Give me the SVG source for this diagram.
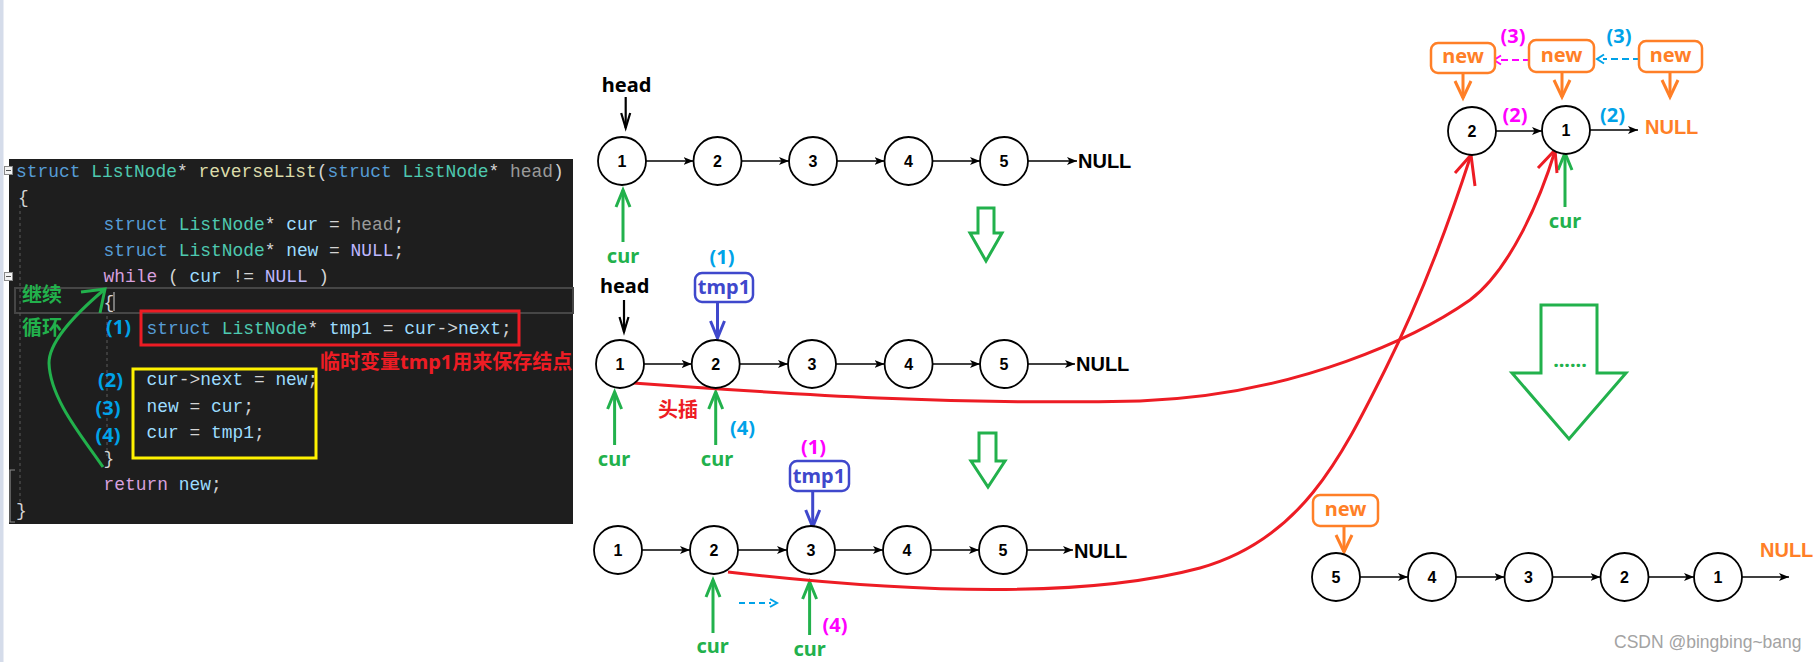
<svg xmlns="http://www.w3.org/2000/svg" width="1820" height="662" viewBox="0 0 1820 662">
<style>
.code{font-family:"Liberation Mono",monospace;font-size:17.9px;fill:#d4d4d4}
.kw{fill:#569cd6}.ty{fill:#4ec9b0}.fn{fill:#dcdcaa}.pa{fill:#9a9a9a}.va{fill:#9cdcfe}.mc{fill:#beb7ff}.ct{fill:#d8a0df}
.lb{font-family:"Noto Sans","Noto Sans CJK SC",sans-serif;font-weight:bold;font-size:20px}
.mid{text-anchor:middle}
.num{font-family:"Liberation Sans",Arial,sans-serif;font-weight:bold;font-size:16px;text-anchor:middle;fill:#000}
.nul{font-family:"Liberation Sans",Arial,sans-serif;font-weight:bold;font-size:20px;fill:#000}
.nd{fill:#fff;stroke:#000;stroke-width:1.8}
.ln{stroke:#000;stroke-width:1.5;fill:none;marker-end:url(#ah)}
.g{fill:#22b14c}.bl{fill:#00a2e8}.mg{fill:#ff00ff}.rd{fill:#ed1c24}.or{fill:#ff7f27}.tb{fill:#3f48cc}
.pg{stroke:#22b14c;stroke-width:3;fill:none;marker-end:url(#mgr)}
.pk{stroke:#000;stroke-width:2.2;fill:none;marker-end:url(#mbk)}
.pb{stroke:#3f48cc;stroke-width:3;fill:none;marker-end:url(#mbl)}
.po{stroke:#ff7f27;stroke-width:3;fill:none;marker-end:url(#mor)}
.red{stroke:#ed1c24;stroke-width:3;fill:none}
.big{fill:none;stroke:#22b14c;stroke-width:3}
.bx{fill:#fff;stroke-width:2.5}
</style>
<defs>
<marker id="ah" viewBox="0 0 10 8" refX="10" refY="4" markerWidth="10" markerHeight="8" markerUnits="userSpaceOnUse" orient="auto"><path d="M0,0 L10,4 L0,8 L2.5,4 Z" fill="#000"/></marker>
<marker id="mgr" viewBox="0 0 20 16" refX="17" refY="8" markerWidth="20" markerHeight="16" markerUnits="userSpaceOnUse" orient="auto" overflow="visible"><path d="M0,1 L17,8 L0,15" fill="none" stroke="#22b14c" stroke-width="3"/></marker>
<marker id="mbk" viewBox="0 0 16 12" refX="15" refY="6" markerWidth="16" markerHeight="12" markerUnits="userSpaceOnUse" orient="auto" overflow="visible"><path d="M0,1.5 L15,6 L0,10.5" fill="none" stroke="#000" stroke-width="2.2"/></marker>
<marker id="mbl" viewBox="0 0 20 16" refX="17" refY="8" markerWidth="20" markerHeight="16" markerUnits="userSpaceOnUse" orient="auto" overflow="visible"><path d="M0,1 L17,8 L0,15" fill="none" stroke="#3f48cc" stroke-width="3"/></marker>
<marker id="mor" viewBox="0 0 20 18" refX="17" refY="9" markerWidth="20" markerHeight="18" markerUnits="userSpaceOnUse" orient="auto" overflow="visible"><path d="M0,1 L17,9 L0,17" fill="none" stroke="#ff7f27" stroke-width="3"/></marker>
</defs>
<rect width="1820" height="662" fill="#fff"/>
<rect x="0" y="0" width="3.5" height="662" fill="#d5dcea"/>

<g id="code-panel">
<rect x="9" y="159" width="564" height="365" fill="#1e1e1e"/>
<rect x="15" y="288" width="558" height="25" fill="none" stroke="#464646" stroke-width="2"/>
<line x1="20" y1="205" x2="20" y2="505" stroke="#5a5a5a" stroke-width="1" stroke-dasharray="3,3"/>
<line x1="107" y1="316" x2="107" y2="456" stroke="#5a5a5a" stroke-width="1" stroke-dasharray="3,3"/>
<polyline points="15,470 10,470 10,522 15,522" fill="none" stroke="#8a8a8a" stroke-width="1.2"/>
<rect x="4.5" y="166.5" width="8" height="8" fill="#f3f3f3" stroke="#8a8a8a"/><line x1="6" y1="170.5" x2="11" y2="170.5" stroke="#555"/>
<rect x="4.5" y="272.5" width="8" height="8" fill="#f3f3f3" stroke="#8a8a8a"/><line x1="6" y1="276.5" x2="11" y2="276.5" stroke="#555"/>
<line x1="114" y1="292" x2="114" y2="311" stroke="#d0d0d0" stroke-width="1"/>
<text class="code" x="16" y="177" xml:space="preserve"><tspan class="kw">struct</tspan> <tspan class="ty">ListNode</tspan>* <tspan class="fn">reverseList</tspan>(<tspan class="kw">struct</tspan> <tspan class="ty">ListNode</tspan>* <tspan class="pa">head</tspan>)</text>
<text class="code" x="18" y="203">{</text>
<text class="code" x="103.6" y="230" xml:space="preserve"><tspan class="kw">struct</tspan> <tspan class="ty">ListNode</tspan>* <tspan class="va">cur</tspan> = <tspan class="pa">head</tspan>;</text>
<text class="code" x="103.6" y="256" xml:space="preserve"><tspan class="kw">struct</tspan> <tspan class="ty">ListNode</tspan>* <tspan class="va">new</tspan> = <tspan class="mc">NULL</tspan>;</text>
<text class="code" x="103.6" y="282" xml:space="preserve"><tspan class="ct">while</tspan> ( <tspan class="va">cur</tspan> != <tspan class="mc">NULL</tspan> )</text>
<text class="code" x="103.6" y="308">{</text>
<text class="code" x="146.5" y="334" xml:space="preserve"><tspan class="kw">struct</tspan> <tspan class="ty">ListNode</tspan>* <tspan class="va">tmp1</tspan> = <tspan class="va">cur</tspan>-&gt;<tspan class="va">next</tspan>;</text>
<text class="code" x="146.5" y="385" xml:space="preserve"><tspan class="va">cur</tspan>-&gt;<tspan class="va">next</tspan> = <tspan class="va">new</tspan>;</text>
<text class="code" x="146.5" y="412" xml:space="preserve"><tspan class="va">new</tspan> = <tspan class="va">cur</tspan>;</text>
<text class="code" x="146.5" y="438" xml:space="preserve"><tspan class="va">cur</tspan> = <tspan class="va">tmp1</tspan>;</text>
<text class="code" x="103.6" y="464">}</text>
<text class="code" x="103.6" y="490" xml:space="preserve"><tspan class="ct">return</tspan> <tspan class="va">new</tspan>;</text>
<text class="code" x="16" y="516">}</text>
<rect x="141" y="311" width="378" height="34" fill="none" stroke="#ed1c24" stroke-width="3"/>
<rect x="133" y="369" width="183" height="89" fill="none" stroke="#fff200" stroke-width="3"/>
<text class="lb bl" x="106" y="334">(1)</text>
<text class="lb bl" x="98" y="387">(2)</text>
<text class="lb bl" x="95.5" y="415">(3)</text>
<text class="lb bl" x="95.5" y="442">(4)</text>
<text class="lb rd" x="320" y="369">临时变量tmp1用来保存结点</text>
<text class="lb g" x="22" y="302">继续</text>
<text class="lb g" x="22" y="335">循环</text>
<path d="M103,467 C85,440 50,400 49,363 C49,340 80,310 105,289" fill="none" stroke="#22b14c" stroke-width="3"/>
<polyline points="81,292 105,289 100,313" fill="none" stroke="#22b14c" stroke-width="3"/>
</g>

<g id="connectors">
<line class="ln" x1="646" y1="161" x2="693.5" y2="161"/>
<line class="ln" x1="741.5" y1="161" x2="789" y2="161"/>
<line class="ln" x1="837" y1="161" x2="884.5" y2="161"/>
<line class="ln" x1="932.5" y1="161" x2="980" y2="161"/>
<line class="ln" x1="1028" y1="161" x2="1077" y2="161"/>
<line class="ln" x1="644" y1="364" x2="691.7" y2="364"/>
<line class="ln" x1="739.7" y1="364" x2="788" y2="364"/>
<line class="ln" x1="836" y1="364" x2="884.6" y2="364"/>
<line class="ln" x1="932.6" y1="364" x2="980" y2="364"/>
<line class="ln" x1="1028" y1="364" x2="1075" y2="364"/>
<line class="ln" x1="642" y1="550" x2="690" y2="550"/>
<line class="ln" x1="738" y1="550" x2="787" y2="550"/>
<line class="ln" x1="835" y1="550" x2="883" y2="550"/>
<line class="ln" x1="931" y1="550" x2="979" y2="550"/>
<line class="ln" x1="1027" y1="550" x2="1073" y2="550"/>
<line class="ln" x1="1496" y1="131" x2="1542" y2="131"/>
<line class="ln" x1="1590" y1="130" x2="1638" y2="130"/>
<line class="ln" x1="1360" y1="577" x2="1408" y2="577"/>
<line class="ln" x1="1456" y1="577" x2="1504.5" y2="577"/>
<line class="ln" x1="1552.5" y1="577" x2="1600.5" y2="577"/>
<line class="ln" x1="1648.5" y1="577" x2="1694" y2="577"/>
<line class="ln" x1="1742" y1="577" x2="1789" y2="577"/>
<line class="pk" x1="625.7" y1="97" x2="625.7" y2="128"/>
<line class="pk" x1="624" y1="300" x2="624" y2="332"/>
<line class="pb" x1="717.5" y1="302" x2="717.5" y2="338"/>
<line class="pb" x1="812.7" y1="491" x2="812.7" y2="527"/>
<line class="pg" x1="623" y1="242" x2="623" y2="190"/>
<line class="pg" x1="614.6" y1="445" x2="614.6" y2="392"/>
<line class="pg" x1="715.7" y1="445" x2="715.7" y2="392"/>
<line class="pg" x1="713" y1="633" x2="713" y2="580"/>
<line class="pg" x1="809.6" y1="635" x2="809.6" y2="582"/>
<line class="pg" x1="1565" y1="207" x2="1565" y2="153"/>
<line class="po" x1="1463" y1="73" x2="1463" y2="98"/>
<line class="po" x1="1562" y1="72" x2="1562" y2="97"/>
<line class="po" x1="1670" y1="72" x2="1670" y2="97"/>
<line class="po" x1="1344" y1="526" x2="1344" y2="552"/>
<path class="red" d="M633,383 C800,395 950,405 1140,401 C1300,395 1420,335 1470,300 C1510,270 1540,200 1555,151"/>
<polyline class="red" points="1538,168 1555,150 1557,173"/>
<path class="red" d="M728,572 C900,592 1080,600 1200,568 C1300,540 1340,460 1385,370 C1420,300 1450,220 1471,155"/>
<polyline class="red" points="1455,173 1471,155 1475,186"/>
<path d="M1530,60 H1499" fill="none" stroke="#ff00ff" stroke-width="2.2" stroke-dasharray="7,4"/>
<polyline points="1501,55.5 1494,60 1501,64.5" fill="none" stroke="#ff00ff" stroke-width="2"/>
<path d="M1640,59 H1603" fill="none" stroke="#00a2e8" stroke-width="2.2" stroke-dasharray="7,4"/>
<polyline points="1604,54.5 1597,59 1604,63.5" fill="none" stroke="#00a2e8" stroke-width="2"/>
<path d="M739,603 H771" fill="none" stroke="#00a2e8" stroke-width="2" stroke-dasharray="6,4"/>
<polyline points="770,599 777,603 770,607" fill="none" stroke="#00a2e8" stroke-width="2"/>
</g>

<g id="big-arrows">
<path class="big" d="M978,208 H994 V233 H1002 L986,261 L970,233 H978 Z"/>
<path class="big" d="M979,433 H996 V461 H1005 L988,487 L971,461 H979 Z"/>
<path class="big" stroke-width="3.5" d="M1541,305 H1597 V373 H1626 L1569,439 L1512,373 H1541 Z"/>
<text class="lb g mid" x="1570" y="367">......</text>
</g>

<g id="row1">
<text class="lb mid" x="626.5" y="92">head</text>
<g id="r1n1"><circle class="nd" cx="622" cy="161" r="24"/><text class="num" x="622" y="167">1</text></g>
<g id="r1n2"><circle class="nd" cx="717.5" cy="161" r="24"/><text class="num" x="717.5" y="167">2</text></g>
<g id="r1n3"><circle class="nd" cx="813" cy="161" r="24"/><text class="num" x="813" y="167">3</text></g>
<g id="r1n4"><circle class="nd" cx="908.5" cy="161" r="24"/><text class="num" x="908.5" y="167">4</text></g>
<g id="r1n5"><circle class="nd" cx="1004" cy="161" r="24"/><text class="num" x="1004" y="167">5</text></g>
<text class="nul" x="1078" y="168">NULL</text>
<text class="lb g mid" x="623" y="263" font-size="19">cur</text>
<text class="lb bl mid" x="722" y="264">(1)</text>
</g>

<g id="row2">
<text class="lb mid" x="624.7" y="293">head</text>
<g id="r2tmp"><rect class="bx" x="695" y="273" width="58" height="29" rx="7" stroke="#3f48cc"/><text class="lb tb mid" x="724" y="294" font-size="18.5">tmp1</text></g>
<g id="r2n1"><circle class="nd" cx="620" cy="364" r="24"/><text class="num" x="620" y="370">1</text></g>
<g id="r2n2"><circle class="nd" cx="715.7" cy="364" r="24"/><text class="num" x="715.7" y="370">2</text></g>
<g id="r2n3"><circle class="nd" cx="812" cy="364" r="24"/><text class="num" x="812" y="370">3</text></g>
<g id="r2n4"><circle class="nd" cx="908.6" cy="364" r="24"/><text class="num" x="908.6" y="370">4</text></g>
<g id="r2n5"><circle class="nd" cx="1004" cy="364" r="24"/><text class="num" x="1004" y="370">5</text></g>
<text class="nul" x="1076" y="371">NULL</text>
<text class="lb g mid" x="614" y="466" font-size="19">cur</text>
<text class="lb g mid" x="717" y="466" font-size="19">cur</text>
<text class="lb bl mid" x="742.5" y="435">(4)</text>
<text class="lb rd" x="658" y="417">头插</text>
</g>

<g id="row3">
<text class="lb mg mid" x="813.5" y="454">(1)</text>
<g id="r3tmp"><rect class="bx" x="790" y="461" width="59" height="30" rx="7" stroke="#3f48cc"/><text class="lb tb mid" x="819" y="483" font-size="18.5">tmp1</text></g>
<g id="r3n1"><circle class="nd" cx="618" cy="550" r="24"/><text class="num" x="618" y="556">1</text></g>
<g id="r3n2"><circle class="nd" cx="714" cy="550" r="24"/><text class="num" x="714" y="556">2</text></g>
<g id="r3n3"><circle class="nd" cx="811" cy="550" r="24"/><text class="num" x="811" y="556">3</text></g>
<g id="r3n4"><circle class="nd" cx="907" cy="550" r="24"/><text class="num" x="907" y="556">4</text></g>
<g id="r3n5"><circle class="nd" cx="1003" cy="550" r="24"/><text class="num" x="1003" y="556">5</text></g>
<text class="nul" x="1074" y="558">NULL</text>
<text class="lb g mid" x="712.6" y="653" font-size="19">cur</text>
<text class="lb g mid" x="809.6" y="656" font-size="19">cur</text>
<text class="lb mg mid" x="835" y="632">(4)</text>
</g>

<g id="topright">
<g id="tr-new1"><rect class="bx" x="1431" y="43" width="64" height="30" rx="7" stroke="#ff7f27"/><text class="lb or mid" x="1463" y="63" font-size="19">new</text></g>
<g id="tr-new2"><rect class="bx" x="1529" y="40" width="65" height="32" rx="7" stroke="#ff7f27"/><text class="lb or mid" x="1561.5" y="62" font-size="19">new</text></g>
<g id="tr-new3"><rect class="bx" x="1639" y="41" width="63" height="31" rx="7" stroke="#ff7f27"/><text class="lb or mid" x="1670.5" y="62" font-size="19">new</text></g>
<text class="lb mg mid" x="1513" y="43">(3)</text>
<text class="lb bl mid" x="1619" y="43">(3)</text>
<g id="tr-n2"><circle class="nd" cx="1472" cy="131" r="24"/><text class="num" x="1472" y="137">2</text></g>
<g id="tr-n1"><circle class="nd" cx="1566" cy="130" r="24"/><text class="num" x="1566" y="136">1</text></g>
<text class="lb mg mid" x="1515" y="122">(2)</text>
<text class="lb bl mid" x="1612.5" y="122">(2)</text>
<text class="nul or" x="1645" y="134">NULL</text>
<text class="lb g mid" x="1565" y="228" font-size="19">cur</text>
</g>

<g id="bottomright">
<g id="br-new"><rect class="bx" x="1313" y="495" width="65" height="31" rx="7" stroke="#ff7f27"/><text class="lb or mid" x="1345.5" y="516" font-size="19">new</text></g>
<g id="br-n5"><circle class="nd" cx="1336" cy="577" r="24"/><text class="num" x="1336" y="583">5</text></g>
<g id="br-n4"><circle class="nd" cx="1432" cy="577" r="24"/><text class="num" x="1432" y="583">4</text></g>
<g id="br-n3"><circle class="nd" cx="1528.5" cy="577" r="24"/><text class="num" x="1528.5" y="583">3</text></g>
<g id="br-n2"><circle class="nd" cx="1624.5" cy="577" r="24"/><text class="num" x="1624.5" y="583">2</text></g>
<g id="br-n1"><circle class="nd" cx="1718" cy="577" r="24"/><text class="num" x="1718" y="583">1</text></g>
<text class="nul or" x="1760" y="557">NULL</text>
<text x="1614" y="648" font-family="Liberation Sans, Arial, sans-serif" font-size="17.5" fill="#a3a3a3">CSDN @bingbing~bang</text>
</g>
</svg>
